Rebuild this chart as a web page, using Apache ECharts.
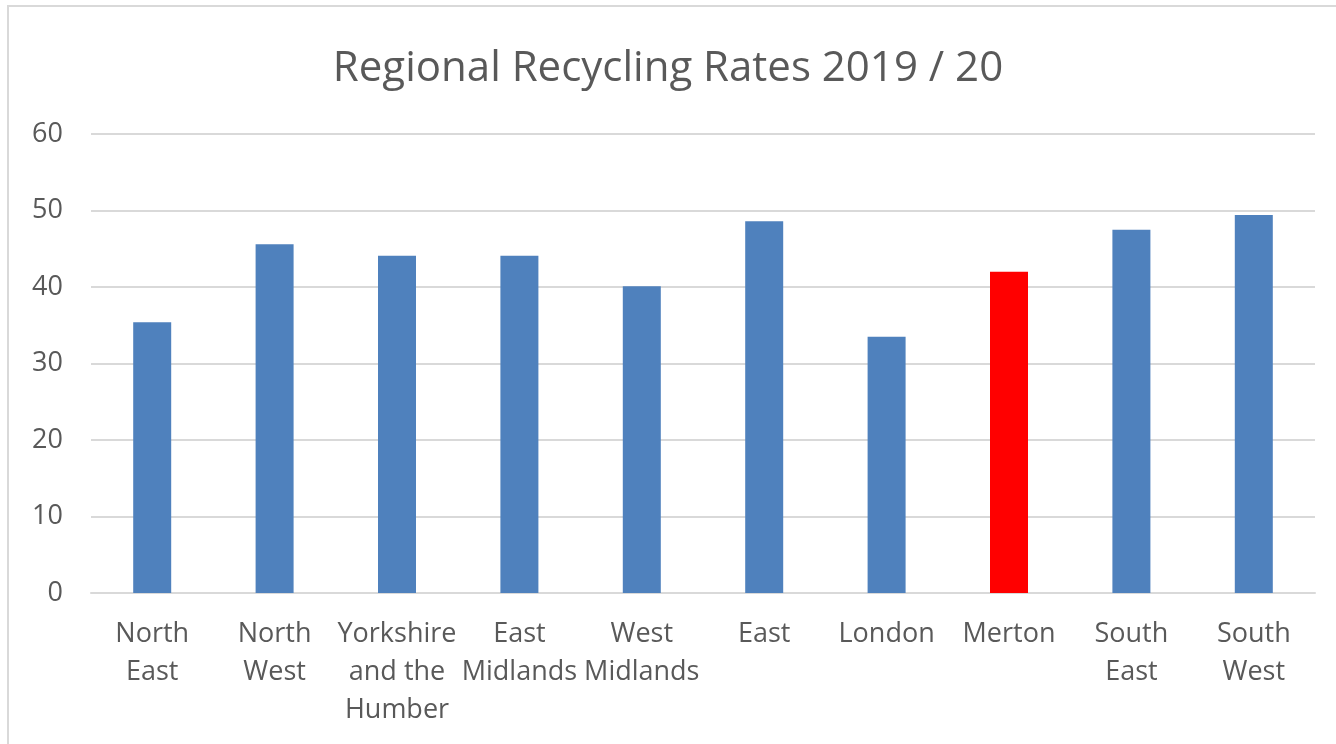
<!DOCTYPE html>
<html lang="en">

<head>
    <meta charset="UTF-8">
    <title>Regional Recycling Rates</title>
    <script src="https://cdn.jsdelivr.net/npm/echarts@6/dist/echarts.min.js"></script>
</head>

<body style="margin: 0; background: #fff">
    <div id="container" style="width: 1336px; height: 744px"></div>
    <script type="text/javascript">
        var regions = ['North\nEast', 'North\nWest', 'Yorkshire\nand the\nHumber', 'East\nMidlands',
            'West\nMidlands', 'East', 'London', 'Merton', 'South\nEast', 'South\nWest'];
        var rates = [35.4, 45.6, 44.1, 44.1, 40.1, 48.6, 33.5, 42.0, 47.5, 49.4];
        var highlight = 'Merton';
        var yTicks = [0, 10, 20, 30, 40, 50, 60];

        var myChart = echarts.init(document.getElementById('container'), null, { renderer: 'canvas' });
        var font = '"Open Sans", Lato, sans-serif';

        var option = {
            backgroundColor: '#fff',
            animation: false,
            graphic: [{
                type: 'rect',
                shape: { x: 8, y: 6, width: 1340, height: 760 },
                style: { fill: 'none', stroke: '#D9D9D9', lineWidth: 2 }
            }],
            title: {
                text: 'Regional Recycling Rates 2019 / 20',
                left: 'center',
                top: 48,
                padding: 0,
                textStyle: { fontFamily: font, fontSize: 42, fontWeight: 'normal', color: '#595959' }
            },
            grid: { left: 91, right: 21, top: 134, bottom: 151 },
            xAxis: {
                type: 'category',
                data: regions,
                axisTick: { show: false },
                axisLine: { lineStyle: { color: '#D9D9D9', width: 2 } },
                axisLabel: {
                    interval: 0,
                    margin: 22,
                    fontFamily: font,
                    fontSize: 27,
                    lineHeight: 38,
                    color: '#595959'
                }
            },
            yAxis: {
                type: 'value',
                min: yTicks[0],
                max: yTicks[yTicks.length - 1],
                interval: 10,
                axisLine: { show: false },
                axisTick: { show: false },
                splitLine: { lineStyle: { color: '#D9D9D9', width: 2 } },
                axisLabel: { margin: 28, fontFamily: font, fontSize: 27, color: '#595959' }
            },
            series: [{
                type: 'bar',
                barWidth: 38,
                data: rates.map(function (v, i) {
                    return {
                        value: v,
                        itemStyle: { color: regions[i] === highlight ? '#FF0000' : '#4F81BD' }
                    };
                })
            }]
        };

        myChart.setOption(option);
        window.addEventListener('resize', myChart.resize);
    </script>
</body>

</html>
